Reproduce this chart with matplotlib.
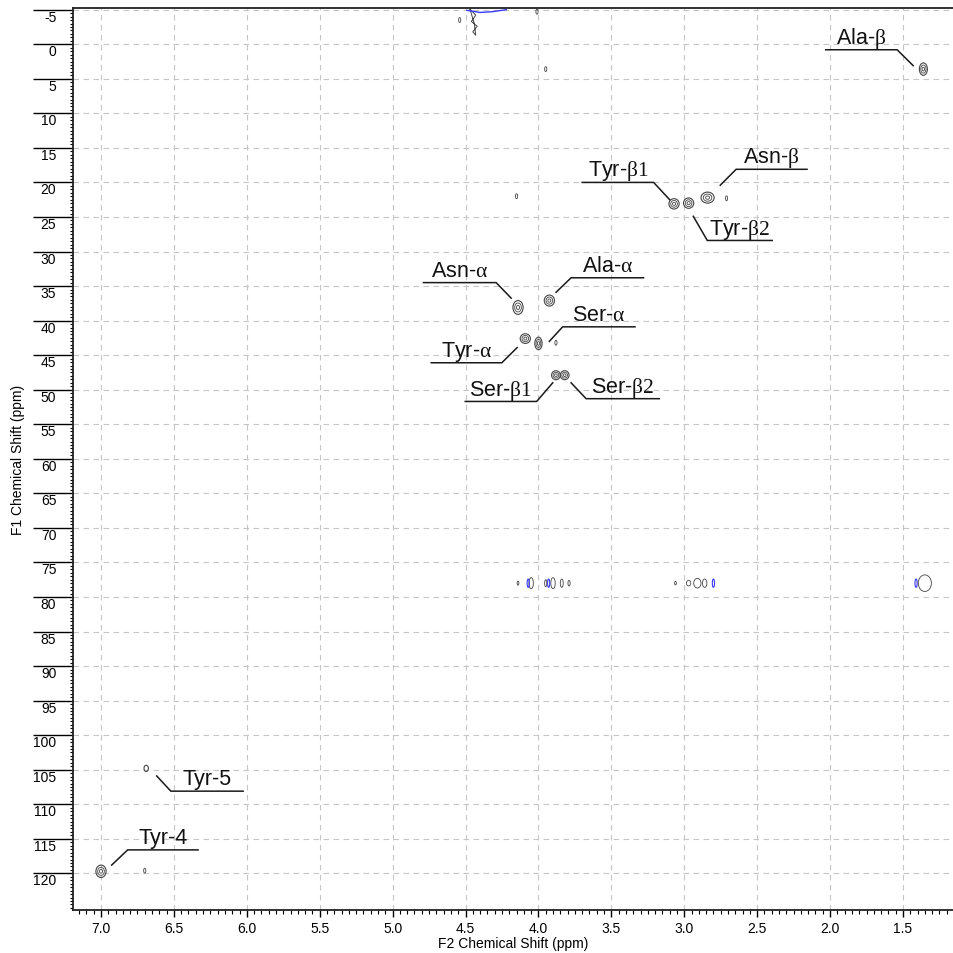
import numpy as np
import matplotlib.pyplot as plt
from matplotlib.patches import Ellipse
from matplotlib.ticker import MultipleLocator, FixedLocator

plt.rcParams['font.family'] = ['Liberation Sans', 'DejaVu Sans']
plt.rcParams['mathtext.fontset'] = 'custom'
plt.rcParams['mathtext.rm'] = 'Liberation Serif'
plt.rcParams['mathtext.it'] = 'Liberation Serif:italic'

# assigned cross peaks: F2 (1H, ppm), F1 (13C, ppm), apparent widths (ppm)
peak_names = [r"Ala-$\mathrm{\beta}$", r"Tyr-$\mathrm{\beta1}$", r"Asn-$\mathrm{\beta}$",
              r"Tyr-$\mathrm{\beta2}$", r"Asn-$\mathrm{\alpha}$", r"Ala-$\mathrm{\alpha}$",
              r"Ser-$\mathrm{\alpha}$", r"Tyr-$\mathrm{\alpha}$", r"Ser-$\mathrm{\beta1}$",
              r"Ser-$\mathrm{\beta2}$", "Tyr-4", "Tyr-5"]
peak_f2 = [1.36, 3.07, 2.97, 2.84, 4.14, 3.925, 4.09, 4.00, 3.88, 3.82, 7.00, 6.69]
peak_f1 = [3.6, 23.1, 23.0, 22.2, 38.1, 37.1, 42.6, 43.3, 47.9, 47.9, 119.7, 104.8]
peak_w2 = [0.055, 0.07, 0.07, 0.09, 0.07, 0.07, 0.07, 0.05, 0.06, 0.06, 0.07, 0.03]
peak_w1 = [1.8, 1.5, 1.5, 1.6, 2.0, 1.6, 1.4, 1.8, 1.3, 1.3, 1.8, 0.9]

# leader lines: tip near the peak -> elbow -> end of the underline
tip_f2 = [1.43, 3.10, 2.753, 2.938, 4.187, 3.879, 3.925, 4.146, 3.902, 3.776, 6.927, 6.618]
tip_f1 = [3.1, 22.5, 20.4, 24.9, 36.75, 35.9, 43.0, 43.9, 49.0, 49.0, 118.8, 105.9]
elbow_f2 = [1.54, 3.21, 2.644, 2.842, 4.29, 3.776, 3.834, 4.251, 4.012, 3.673, 6.817, 6.521]
elbow_f1 = [0.8, 20.0, 18.1, 28.4, 34.5, 33.8, 40.9, 46.1, 51.7, 51.3, 116.6, 108.1]
end_f2 = [2.03, 3.70, 2.158, 2.397, 4.788, 3.279, 3.338, 4.735, 4.502, 3.171, 6.334, 6.025]

# weak unassigned signals / artefacts
minor_f2 = [2.71, 4.15, 3.88, 6.70, 3.95, 4.54, 4.01]
minor_f1 = [22.3, 22.0, 43.2, 119.6, 3.6, -3.5, -4.7]

# t1 noise row near 78 ppm
noise_f2 = [4.14, 4.05, 3.95, 3.90, 3.84, 3.79, 3.06, 2.97, 2.91, 2.86, 1.35]
noise_f1 = [78.0, 78.0, 78.0, 78.0, 78.0, 78.0, 78.0, 78.0, 78.0, 78.0, 78.0]
noise_w2 = [0.012, 0.03, 0.015, 0.03, 0.02, 0.015, 0.012, 0.03, 0.05, 0.03, 0.09]
noise_w1 = [0.6, 1.6, 1.0, 1.6, 1.2, 0.8, 0.5, 0.8, 1.4, 1.2, 2.4]
neg_f2 = [4.07, 3.93, 2.80, 1.41]
neg_f1 = [78.0, 78.0, 78.0, 78.0]

# streak at the top edge (water / solvent region)
streak_f2 = [4.47, 4.43, 4.46, 4.42, 4.45, 4.43, 4.44, 4.47]
streak_f1 = [-5.1, -4.2, -3.3, -2.6, -1.8, -1.3, -3.0, -5.1]
top_f2 = [4.49, 4.40, 4.32, 4.22]
top_f1 = [-4.9, -4.6, -4.7, -5.0]

f1_ticks = list(range(-5, 121, 5))

fig = plt.figure(figsize=(9.54, 9.54), dpi=100)
ax = fig.add_axes([73 / 954, 1 - 911 / 954, 1 - 73 / 954, (911 - 9.3) / 954])

ax.set_xlim(7.192, 1.15)
ax.set_ylim(125.3, -5.2)

ax.grid(True, which='major', color='#c6c6c6', linestyle=(0, (5, 4)), linewidth=0.8)
ax.set_axisbelow(True)

cc = '#444444'
for x, y, w, h in zip(peak_f2, peak_f1, peak_w2, peak_w1):
    ax.add_patch(Ellipse((x, y), w, h, fill=False, ec=cc, lw=0.8))
    if h > 1.0:
        ax.add_patch(Ellipse((x, y), w * 0.65, h * 0.65, fill=False, ec=cc, lw=0.6))
        ax.add_patch(Ellipse((x, y), w * 0.3, h * 0.3, fill=False, ec=cc, lw=0.6))
for x, y in zip(minor_f2, minor_f1):
    ax.add_patch(Ellipse((x, y), 0.015, 0.7, fill=False, ec=cc, lw=0.6))
for x, y, w, h in zip(noise_f2, noise_f1, noise_w2, noise_w1):
    ax.add_patch(Ellipse((x, y), w, h, fill=False, ec=cc, lw=0.6))
for x, y in zip(neg_f2, neg_f1):
    ax.add_patch(Ellipse((x, y), 0.015, 1.2, fill=False, ec='#3a3aff', lw=0.8))
ax.plot(streak_f2, streak_f1, color=cc, lw=0.7)
ax.plot(top_f2, top_f1, color='#3a3aff', lw=1.0)

for name, x0, y0, x1, y1, x2 in zip(peak_names, tip_f2, tip_f1, elbow_f2, elbow_f1, end_f2):
    ax.plot([x0, x1, x2], [y0, y1, y1], color='#1a1a1a', lw=1.1, solid_joinstyle='miter')
    ax.annotate(name, xy=((x1 + x2) / 2, y1), xytext=(0, 5), textcoords='offset points',
                ha='center', va='baseline', fontsize=15.5, color='#111111')

ax.xaxis.set_major_locator(MultipleLocator(0.5))
ax.xaxis.set_minor_locator(MultipleLocator(0.05))
ax.yaxis.set_major_locator(FixedLocator(f1_ticks))
ax.yaxis.set_minor_locator(MultipleLocator(0.5))
ax.xaxis.set_major_formatter(lambda v, p: f"{v:.1f}")
ax.yaxis.set_major_formatter(lambda v, p: f"{v:.0f}")

ax.tick_params(axis='x', which='major', direction='out', length=5, width=1, labelsize=10, pad=3)
ax.tick_params(axis='x', which='minor', direction='out', length=2.8, width=0.8)
ax.tick_params(axis='y', which='major', direction='out', length=29, width=1, labelsize=10, pad=-17)
ax.tick_params(axis='y', which='minor', direction='out', length=2.2, width=0.8)

for tk in ax.yaxis.get_major_ticks():
    tk.label1.set_verticalalignment('top')

for s in ['top', 'left', 'bottom']:
    ax.spines[s].set_linewidth(1.3)
    ax.spines[s].set_color('#222222')
ax.spines['right'].set_visible(False)

ax.set_xlabel('F2 Chemical Shift (ppm)', fontsize=10, va='top')
ax.xaxis.set_label_coords(0.5, -0.029)
ax.set_ylabel('F1 Chemical Shift (ppm)', fontsize=10)
ax.yaxis.set_label_coords(-0.055, 0.5)

plt.savefig('out.png', dpi=100)
